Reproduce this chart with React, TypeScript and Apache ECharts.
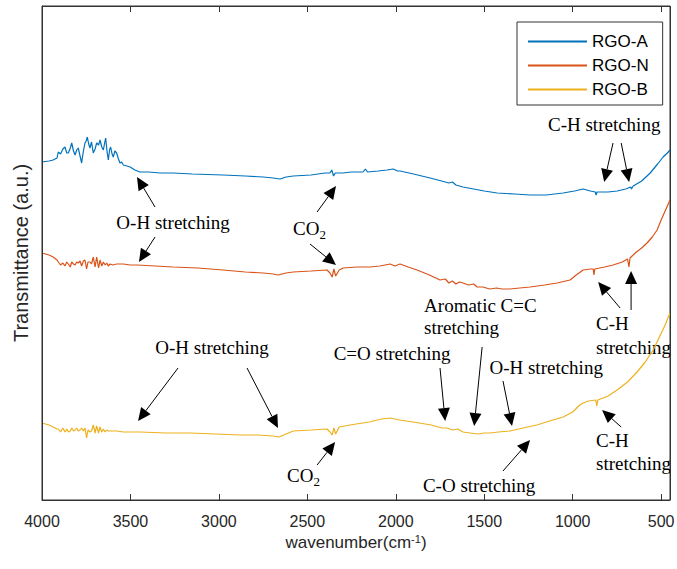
import React, { useEffect, useRef } from "react";
import * as echarts from "echarts";

// ---- data (wavenumber cm^-1, transmittance a.u.) ----
const X_TICKS = [500, 1000, 1500, 2000, 2500, 3000, 3500, 4000];
const SERIES_NAMES = ["RGO-A", "RGO-N", "RGO-B"];
const SERIES_COLORS = ["#0072BD", "#D95319", "#EDB120"];
const X_MIN = 450;
const X_MAX = 4000;
const Y_MIN = 0;
const Y_MAX = 494;
const TICK_LEN = 6;

const rgoA: number[][] = [
  [4000, 338], [3960, 339], [3937, 340], [3915, 342], [3908, 348], [3895, 346], [3882, 351],
  [3870, 353], [3860, 347], [3851, 347], [3840, 352], [3832, 357], [3822, 349], [3813, 345],
  [3804, 350], [3795, 352], [3785, 344], [3776, 337], [3766, 349], [3757, 357], [3750, 359],
  [3744, 363], [3736, 356], [3729, 352], [3720, 358], [3710, 347], [3700, 351], [3691, 357],
  [3680, 355], [3672, 360], [3662, 353], [3653, 350], [3646, 357], [3640, 362], [3632, 348],
  [3625, 340], [3618, 350], [3612, 353], [3604, 346], [3597, 343], [3588, 349], [3578, 347],
  [3568, 341], [3559, 337], [3550, 338], [3540, 335], [3520, 334], [3502, 333], [3475, 330],
  [3446, 328], [3400, 328], [3330, 327], [3260, 327], [3150, 326], [2977, 325], [2850, 324],
  [2750, 323], [2694, 322], [2654, 321], [2620, 323], [2580, 324], [2480, 325], [2400, 327],
  [2372, 327], [2362, 330], [2352, 324], [2342, 327], [2300, 327], [2250, 328], [2185, 328],
  [2172, 331], [2160, 328], [2100, 329], [2050, 330], [2015, 331], [1990, 329], [1976, 329],
  [1900, 326], [1806, 322], [1720, 318], [1700, 317], [1680, 318], [1660, 315], [1620, 313],
  [1560, 311], [1500, 309], [1427, 307], [1330, 306], [1241, 305], [1150, 305], [1054, 307],
  [990, 309], [941, 311], [900, 309], [872, 308], [868, 305], [862, 308], [800, 308],
  [749, 309], [700, 311], [672, 313], [668, 311], [658, 314], [610, 319], [562, 327],
  [520, 336], [489, 343], [465, 347], [450, 350],
];

const rgoN: number[][] = [
  [4000, 247], [3960, 245], [3937, 243], [3915, 240], [3908, 238], [3895, 235], [3882, 237],
  [3870, 234], [3860, 238], [3851, 236], [3840, 233], [3832, 238], [3822, 236], [3813, 235],
  [3804, 238], [3795, 237], [3785, 239], [3776, 234], [3766, 239], [3757, 240], [3748, 231],
  [3740, 238], [3729, 238], [3720, 236], [3710, 243], [3700, 233], [3691, 243], [3680, 232],
  [3672, 240], [3662, 234], [3653, 238], [3643, 235], [3634, 237], [3625, 234], [3615, 236],
  [3600, 235], [3578, 236], [3540, 236], [3502, 235], [3463, 235], [3360, 234], [3260, 233],
  [3120, 232], [2977, 230], [2850, 228], [2750, 227], [2694, 226], [2666, 225], [2620, 227],
  [2580, 228], [2480, 229], [2389, 230], [2372, 227], [2360, 223], [2350, 231], [2340, 224],
  [2320, 230], [2298, 232], [2220, 233], [2145, 233], [2090, 234], [2032, 236], [2005, 234],
  [1976, 236], [1930, 233], [1880, 230], [1810, 225], [1750, 220], [1720, 221], [1700, 217],
  [1680, 219], [1660, 216], [1640, 218], [1620, 217], [1590, 215], [1560, 216], [1540, 213],
  [1507, 213], [1470, 211], [1430, 212], [1400, 211], [1354, 211], [1300, 212], [1241, 213],
  [1160, 215], [1088, 217], [1040, 219], [1015, 220], [980, 225], [941, 230], [900, 231],
  [884, 231], [880, 225], [875, 231], [820, 233], [772, 235], [720, 238], [690, 241],
  [682, 233], [676, 242], [640, 248], [610, 252], [580, 257], [550, 263], [523, 270],
  [500, 280], [475, 290], [450, 300],
];

const rgoB: number[][] = [
  [4000, 77], [3960, 75], [3937, 73], [3915, 71], [3908, 71], [3895, 68], [3882, 72],
  [3870, 68], [3860, 71], [3851, 68], [3840, 69], [3832, 72], [3822, 69], [3813, 70],
  [3804, 72], [3795, 69], [3785, 70], [3776, 72], [3766, 69], [3757, 72], [3748, 62],
  [3740, 70], [3729, 68], [3720, 69], [3710, 75], [3700, 67], [3691, 74], [3680, 67],
  [3672, 73], [3662, 68], [3653, 71], [3643, 68], [3634, 70], [3625, 69], [3610, 69],
  [3578, 69], [3540, 68], [3502, 68], [3446, 68], [3300, 67], [3163, 67], [3020, 66],
  [2880, 65], [2780, 65], [2694, 64], [2660, 63], [2620, 66], [2580, 69], [2480, 70],
  [2389, 71], [2372, 68], [2360, 65], [2350, 72], [2340, 66], [2320, 73], [2259, 75],
  [2150, 78], [2080, 81], [2032, 82], [1980, 80], [1902, 78], [1800, 75], [1740, 72],
  [1710, 72], [1680, 70], [1650, 71], [1620, 68], [1580, 67], [1540, 66], [1500, 67],
  [1467, 67], [1420, 68], [1354, 69], [1280, 72], [1203, 75], [1130, 79], [1054, 83],
  [1000, 88], [960, 95], [941, 97], [910, 99], [870, 100], [864, 94], [858, 100],
  [800, 104], [749, 110], [690, 118], [636, 128], [590, 138], [545, 150], [510, 163],
  [480, 174], [450, 187],
];

// annotations (data coordinates)
type Arrow = { from: number[]; to: number[] };
const ARROWS: Arrow[] = [
  { from: [772, 357], to: [822, 318] },
  { from: [726, 357], to: [681, 318] },
  { from: [3361, 293], to: [3463, 323] },
  { from: [3361, 263], to: [3452, 238] },
  { from: [2445, 288], to: [2338, 314] },
  { from: [2485, 256], to: [2338, 235] },
  { from: [732, 192], to: [856, 218] },
  { from: [670, 190], to: [670, 229] },
  { from: [3231, 132], to: [3457, 79] },
  { from: [2841, 132], to: [2666, 72] },
  { from: [2445, 35], to: [2343, 58] },
  { from: [1750, 132], to: [1721, 79] },
  { from: [1512, 153], to: [1557, 74] },
  { from: [1394, 119], to: [1343, 74] },
  { from: [1394, 29], to: [1241, 60] },
  { from: [726, 73], to: [834, 90] },
];

type Label = { text: string; at: number[]; align: "left" | "center" };
const LABELS: Label[] = [
  { text: "C-H stretching", at: [822, 376], align: "center" },
  { text: "O-H stretching", at: [3259, 278], align: "center" },
  { text: "C-H", at: [868, 177], align: "left" },
  { text: "stretching", at: [868, 153], align: "left" },
  { text: "O-H stretching", at: [3039, 153], align: "center" },
  { text: "C=O stretching", at: [2021, 147], align: "center" },
  { text: "Aromatic C=C", at: [1840, 195], align: "left" },
  { text: "stretching", at: [1840, 173], align: "left" },
  { text: "O-H stretching", at: [1150, 133], align: "center" },
  { text: "C-O stretching", at: [1529, 15], align: "center" },
  { text: "C-H", at: [868, 60], align: "left" },
  { text: "stretching", at: [868, 37], align: "left" },
];
const CO2_LABELS: number[][] = [
  [2485, 272],
  [2519, 25],
];

const SERIF = '"Liberation Serif", "Times New Roman", serif';
const SANS = '"Liberation Sans", Arial, sans-serif';
const AXIS_COLOR = "#333333";

export default function App() {
  const ref = useRef<HTMLDivElement>(null);

  useEffect(() => {
    document.body.style.margin = "0";
    if (!ref.current) return;
    const chart = echarts.init(ref.current, undefined, { renderer: "svg" });
    const seriesData = [rgoA, rgoN, rgoB];

    // frame edges and inward ticks as mark lines in data coordinates
    const frameLines: any[] = [
      [{ coord: [X_MAX, Y_MAX] }, { coord: [X_MIN, Y_MAX] }],
      [{ coord: [X_MIN, Y_MIN] }, { coord: [X_MIN, Y_MAX] }],
      [{ coord: [X_MAX, Y_MIN] }, { coord: [X_MIN, Y_MIN] }],
      [{ coord: [X_MAX, Y_MIN] }, { coord: [X_MAX, Y_MAX] }],
    ];
    X_TICKS.forEach((t) => {
      frameLines.push([{ coord: [t, Y_MIN] }, { coord: [t, Y_MIN + TICK_LEN] }]);
      frameLines.push([{ coord: [t, Y_MAX] }, { coord: [t, Y_MAX - TICK_LEN] }]);
    });

    const series: any[] = SERIES_NAMES.map((name, i) => ({
      name,
      type: "line",
      data: seriesData[i],
      symbol: "none",
      showSymbol: false,
      color: SERIES_COLORS[i],
      lineStyle: { color: SERIES_COLORS[i], width: 1.2 },
    }));
    series.push({
      name: "frame",
      type: "line",
      data: [[X_MAX, Y_MIN]],
      symbol: "none",
      showSymbol: false,
      lineStyle: { opacity: 0 },
      clip: false,
      silent: true,
      z: 5,
      markLine: {
        silent: true,
        symbol: ["none", "none"],
        label: { show: false },
        emphasis: { disabled: true },
        lineStyle: { color: AXIS_COLOR, width: 1, type: "solid" },
        data: frameLines,
      },
    });

    chart.setOption({
      animation: false,
      grid: {
        left: 42,
        right: 7,
        top: 6,
        bottom: 69,
        outerBoundsMode: "none",
        show: true,
        borderColor: AXIS_COLOR,
        borderWidth: 1,
        backgroundColor: "rgba(0,0,0,0)",
      },
      legend: {
        data: SERIES_NAMES.map((n) => ({ name: n, icon: "rect" })),
        orient: "vertical",
        left: 517,
        top: 22,
        padding: [10, 14, 6, 11],
        itemWidth: 59,
        itemHeight: 2,
        itemGap: 5,
        borderColor: AXIS_COLOR,
        borderWidth: 1,
        backgroundColor: "#fff",
        textStyle: { fontFamily: SANS, fontSize: 17, color: "#000", lineHeight: 19 },
      },
      xAxis: {
        type: "value",
        min: X_MIN,
        max: X_MAX,
        inverse: true,
        axisLine: { show: true, onZero: false, lineStyle: { color: AXIS_COLOR, width: 1 } },
        axisTick: { show: false },
        axisLabel: {
          customValues: X_TICKS,
          margin: 13,
          color: "#262626",
          fontSize: 16,
          fontFamily: SANS,
          formatter: (v: number) => String(v),
        },
        splitLine: { show: false },
        name: "{a|wavenumber(cm}{s|-1}{a|)}",
        nameLocation: "middle",
        nameGap: 33,
        nameTextStyle: {
          fontSize: 17,
          fontFamily: SANS,
          color: "#262626",
          rich: {
            a: { fontSize: 17, fontFamily: SANS, color: "#262626" },
            s: { fontSize: 11, fontFamily: SANS, color: "#262626", verticalAlign: "top" },
          },
        },
      },
      yAxis: {
        type: "value",
        min: Y_MIN,
        max: Y_MAX,
        axisLine: { show: true, onZero: false, lineStyle: { color: AXIS_COLOR, width: 1 } },
        axisTick: { show: false },
        axisLabel: { show: false },
        splitLine: { show: false },
        name: "Transmittance (a.u.)",
        nameLocation: "middle",
        nameGap: 11,
        nameTextStyle: { fontFamily: SANS, fontSize: 20, color: "#262626" },
      },
      series,
    });

    const toPx = (p: number[]) => chart.convertToPixel({ gridIndex: 0 }, p) as number[];
    const graphics: any[] = [];
    const L = 13;
    const HW = 6;
    ARROWS.forEach((a) => {
      const t = toPx(a.from);
      const h = toPx(a.to);
      const dx = h[0] - t[0];
      const dy = h[1] - t[1];
      const len = Math.sqrt(dx * dx + dy * dy) || 1;
      const ux = dx / len;
      const uy = dy / len;
      const bx = h[0] - ux * L;
      const by = h[1] - uy * L;
      graphics.push({
        type: "line",
        shape: { x1: t[0], y1: t[1], x2: bx, y2: by },
        style: { stroke: "#000", lineWidth: 1 },
      });
      graphics.push({
        type: "polygon",
        shape: {
          points: [
            [h[0], h[1]],
            [bx - uy * HW, by + ux * HW],
            [bx + uy * HW, by - ux * HW],
          ],
        },
        style: { fill: "#000" },
      });
    });
    LABELS.forEach((l) => {
      const p = toPx(l.at);
      graphics.push({
        type: "text",
        x: p[0],
        y: p[1],
        style: { text: l.text, fill: "#000", font: `19px ${SERIF}`, align: l.align, verticalAlign: "middle" },
      });
    });
    CO2_LABELS.forEach((at) => {
      const p = toPx(at);
      const left = p[0] - 17;
      graphics.push({
        type: "text",
        x: left,
        y: p[1],
        style: { text: "CO", fill: "#000", font: `19px ${SERIF}`, align: "left", verticalAlign: "middle" },
      });
      graphics.push({
        type: "text",
        x: left + 26.5,
        y: p[1] + 6,
        style: { text: "2", fill: "#000", font: `13px ${SERIF}`, align: "left", verticalAlign: "middle" },
      });
    });
    chart.setOption({ graphic: graphics });

    return () => chart.dispose();
  }, []);

  return <div ref={ref} style={{ width: 677, height: 569 }} />;
}
